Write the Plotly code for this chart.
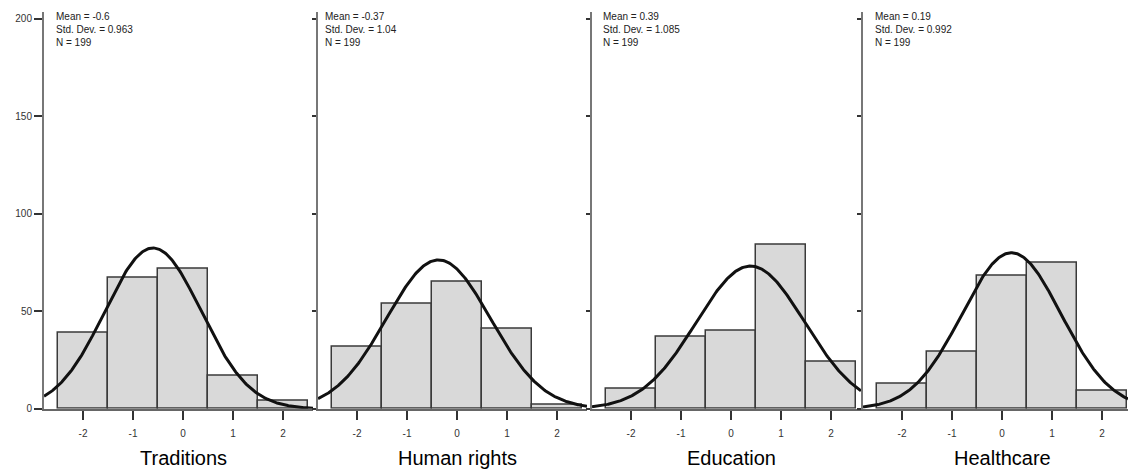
import numpy as np
import plotly.graph_objects as go

# Histogram bins (centres, width 1) and counts per variable
bin_centres = [-2, -1, 0, 1, 2]
titles = ["Traditions", "Human rights", "Education", "Healthcare"]
counts_traditions = [39, 67, 72, 17, 4]
counts_human_rights = [32, 54, 65, 41, 2]
counts_education = [10, 37, 40, 84, 24]
counts_healthcare = [13, 29, 68, 75, 9]
means = [-0.6, -0.37, 0.39, 0.19]
std_devs = [0.963, 1.04, 1.085, 0.992]
n_obs = [199, 199, 199, 199]
mean_labels = ["-0.6", "-0.37", "0.39", "0.19"]
sd_labels = ["0.963", "1.04", "1.085", "0.992"]
x_ticks = [-2, -1, 0, 1, 2]
x_tick_text = ["-2", "-1", "0", "1", "2"]
y_ticks = [0, 50, 100, 150, 200]
y_tick_text = ["0", "50", "100", "150", "200"]

all_counts = [counts_traditions, counts_human_rights, counts_education, counts_healthcare]

W, H = 1128, 475
# pixel layout of each panel: left edge, right edge, x-range
panel_px = [(44, 313), (318, 587), (592, 861), (863, 1128)]
x_ranges = [[-2.78, 2.6], [-2.78, 2.6], [-2.78, 2.6], [-2.78, 2.52]]
text_px = [54, 323, 601, 873]

y_bottom_px, y_top_px = 414, 12
px_per_unit = 1.975
y_range = [0, (y_bottom_px - y_top_px) / px_per_unit]
y_dom = [(H - y_bottom_px) / H, (H - y_top_px) / H]

fig = go.Figure()
layout = dict(
    width=W, height=H,
    margin=dict(l=0, r=0, t=0, b=0),
    paper_bgcolor="white", plot_bgcolor="white",
    showlegend=False,
    font=dict(family="Liberation Sans, Arial, sans-serif", size=10, color="#222"),
    bargap=0,
)

annotations = []
for i in range(4):
    xa = "x" if i == 0 else f"x{i+1}"
    ya = "y" if i == 0 else f"y{i+1}"
    xkey = "xaxis" if i == 0 else f"xaxis{i+1}"
    ykey = "yaxis" if i == 0 else f"yaxis{i+1}"
    l, r = panel_px[i]

    fig.add_trace(go.Bar(
        x=bin_centres, y=all_counts[i], width=1,
        marker=dict(color="#d9d9d9", line=dict(color="#3a3a3a", width=1.5)),
        xaxis=xa, yaxis=ya, hoverinfo="skip",
    ))

    # fitted normal curve scaled to counts (bin width 1)
    xs = np.linspace(x_ranges[i][0], x_ranges[i][1], 300)
    mu, sd, n = means[i], std_devs[i], n_obs[i]
    ys = n / (sd * np.sqrt(2 * np.pi)) * np.exp(-0.5 * ((xs - mu) / sd) ** 2)
    fig.add_trace(go.Scatter(
        x=xs, y=ys, mode="lines",
        line=dict(color="#111111", width=3),
        xaxis=xa, yaxis=ya, hoverinfo="skip",
    ))

    layout[xkey] = dict(
        domain=[l / W, r / W], range=x_ranges[i], anchor=ya,
        showgrid=False, zeroline=False,
        showline=True, linecolor="#666", linewidth=2,
        ticks="outside", ticklen=9, tickwidth=1.5, tickcolor="#333",
        ticklabelstandoff=5,
        tickvals=x_ticks, ticktext=x_tick_text,
        tickfont=dict(size=10, color="#333"),
    )
    layout[ykey] = dict(
        domain=y_dom, range=y_range, anchor=xa,
        showgrid=False, zeroline=False,
        showline=True, linecolor="#777", linewidth=2,
        ticks="outside", ticklen=8 if i == 0 else 4, tickwidth=1.5, tickcolor="#333",
        tickvals=y_ticks, ticktext=y_tick_text,
        showticklabels=(i == 0),
        tickfont=dict(size=10, color="#333"),
    )

    annotations.append(dict(
        x=0, xref=xa, y=(H - 464) / H, yref="paper",
        text=titles[i], showarrow=False,
        xanchor="center", yanchor="middle",
        font=dict(size=20, color="#000", family="Liberation Sans, Arial, sans-serif"),
    ))
    annotations.append(dict(
        x=text_px[i] / W, xref="paper", y=(H - 9) / H, yref="paper",
        text=f"Mean = {mean_labels[i]}<br>Std. Dev. = {sd_labels[i]}<br>N = {n_obs[i]}",
        showarrow=False, align="left",
        xanchor="left", yanchor="top",
        font=dict(size=10, color="#222"),
    ))

layout["annotations"] = annotations
fig.update_layout(**layout)
fig.write_html("out.html")
